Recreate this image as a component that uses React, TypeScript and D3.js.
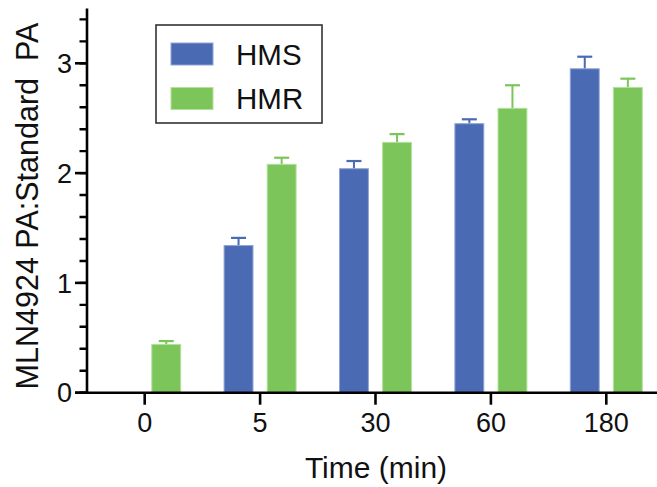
import React from "react"
import * as d3 from "d3"

// Data
const categories = ["0", "5", "30", "60", "180"]
const seriesNames = ["HMS", "HMR"]
const hmsValues = [0, 1.34, 2.04, 2.45, 2.95]
const hmsErrors = [0, 0.07, 0.07, 0.04, 0.11]
const hmrValues = [0.44, 2.08, 2.28, 2.59, 2.78]
const hmrErrors = [0.03, 0.06, 0.075, 0.21, 0.08]
const yMajorTicks = [0, 1, 2, 3]

const colors = ["#4a6ab4", "#7cc55a"]
const strokes = ["#8fa3d6", "#b3e09c"]

export default function App() {
  const width = 657
  const height = 487
  const font = "'Liberation Sans', Arial, sans-serif"

  // Scales
  const xScale = d3.scaleBand().domain(categories).range([87, 664]).padding(0)
  const yScale = d3.scaleLinear().domain([0, 3.5]).range([392.7, 8.4])
  const sub = d3.scaleBand().domain(seriesNames).range([-36, 36]).paddingInner(0.33)
  const barW = sub.bandwidth()

  const series = [
    { name: "HMS", values: hmsValues, errors: hmsErrors },
    { name: "HMR", values: hmrValues, errors: hmrErrors },
  ]
  // minor ticks every 0.2
  const minorTicks = d3.range(0, 18).map((k) => k * 0.2)
  const y0 = yScale(0)

  return (
    <svg
      width={width}
      height={height}
      style={{ position: "absolute", left: 0, top: 0, background: "#fff" }}
      fontFamily={font}
    >
      {/* bars + error bars */}
      {series.map((s, si) =>
        categories.map((c, i) => {
          const v = s.values[i]
          if (!v) return null
          const cx = xScale(c)! + xScale.bandwidth() / 2
          const x = cx + sub(s.name)!
          const top = yScale(v)
          const capY = yScale(v + s.errors[i])
          const mid = x + barW / 2
          return (
            <g key={s.name + c}>
              <line x1={mid} x2={mid} y1={top} y2={capY} stroke={colors[si]} strokeWidth={2} />
              <line x1={mid - 7.5} x2={mid + 7.5} y1={capY} y2={capY} stroke={colors[si]} strokeWidth={2.2} />
              <rect
                x={x}
                y={top}
                width={barW}
                height={y0 - top}
                fill={colors[si]}
                stroke={strokes[si]}
                strokeWidth={1}
              />
            </g>
          )
        })
      )}

      {/* y axis */}
      <path
        d={minorTicks.map((t) => `M79.5,${yScale(t)}H87`).join("")}
        stroke="#000"
        strokeWidth={2.4}
        fill="none"
      />
      <line x1={87} x2={87} y1={yScale(3.5)} y2={y0 + 1.2} stroke="#000" strokeWidth={2.6} />
      {yMajorTicks.map((t) => (
        <g key={"y" + t}>
          <line x1={75} x2={87} y1={yScale(t)} y2={yScale(t)} stroke="#000" strokeWidth={2.6} />
          <text x={72} y={yScale(t) + 9.7} fontSize={27} textAnchor="end" fill="#111">
            {t}
          </text>
        </g>
      ))}

      {/* x axis */}
      <line x1={75} x2={664} y1={y0} y2={y0} stroke="#000" strokeWidth={2.6} />
      {categories.map((c) => {
        const cx = xScale(c)! + xScale.bandwidth() / 2
        return (
          <g key={"x" + c}>
            <line x1={cx} x2={cx} y1={y0} y2={y0 + 12} stroke="#000" strokeWidth={2.6} />
            <text x={cx} y={432} fontSize={27} textAnchor="middle" fill="#111">
              {c}
            </text>
          </g>
        )
      })}

      {/* axis titles */}
      <text x={376} y={478} fontSize={30} textAnchor="middle" fill="#111">
        Time (min)
      </text>
      <text
        transform={`translate(38, 206) rotate(-90)`}
        fontSize={30.5}
        textAnchor="middle"
        fill="#111"
        style={{ whiteSpace: "pre" }}
      >
        {"MLN4924 PA:Standard  PA"}
      </text>

      {/* legend */}
      <rect x={156} y={25} width={166} height={98} fill="#fff" stroke="#333" strokeWidth={1.6} />
      {seriesNames.map((n, i) => (
        <g key={"l" + n}>
          <rect x={171} y={43 + i * 44.5} width={42} height={22} fill={colors[i]} stroke={strokes[i]} strokeWidth={1} />
          <text x={236} y={65 + i * 44} fontSize={29.5} fill="#111">
            {n}
          </text>
        </g>
      ))}
    </svg>
  )
}
